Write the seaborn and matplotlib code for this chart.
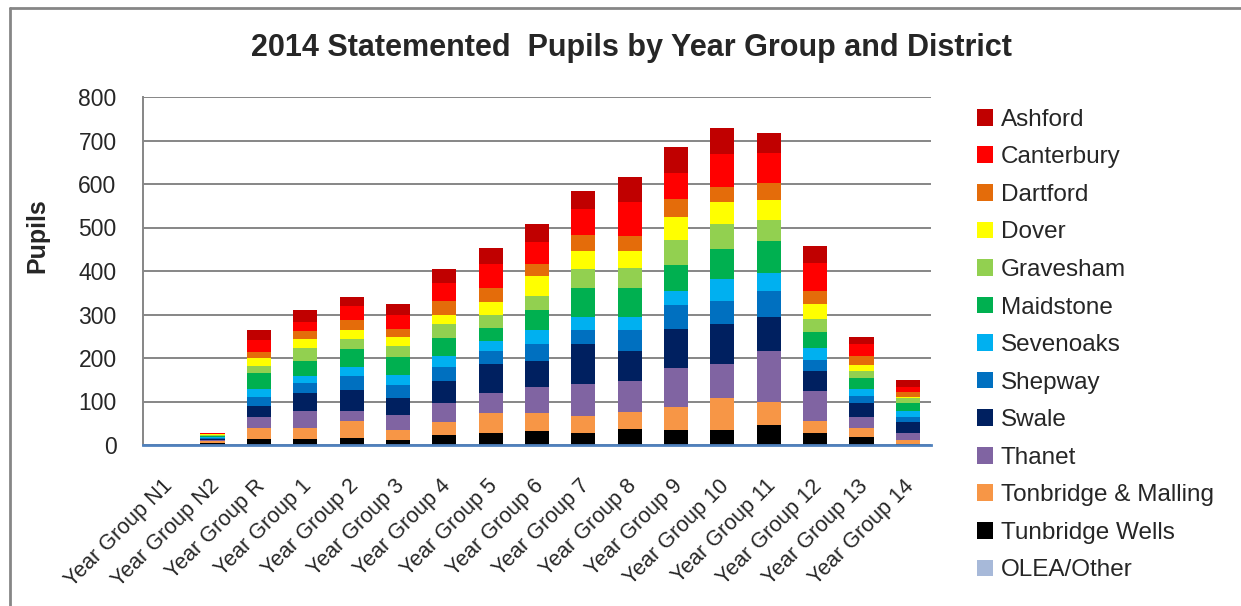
import numpy as np
import pandas as pd
import matplotlib
matplotlib.use("Agg")
import matplotlib.pyplot as plt
import seaborn as sns
from matplotlib.patches import Patch
from matplotlib.lines import Line2D
from matplotlib.transforms import ScaledTranslation

# categories (x axis)
year_groups = ["Year Group N1", "Year Group N2", "Year Group R", "Year Group 1",
               "Year Group 2", "Year Group 3", "Year Group 4", "Year Group 5",
               "Year Group 6", "Year Group 7", "Year Group 8", "Year Group 9",
               "Year Group 10", "Year Group 11", "Year Group 12", "Year Group 13",
               "Year Group 14"]

# legend order = top of stack first
districts = ["Ashford", "Canterbury", "Dartford", "Dover", "Gravesham", "Maidstone",
             "Sevenoaks", "Shepway", "Swale", "Thanet", "Tonbridge & Malling",
             "Tunbridge Wells", "OLEA/Other"]

colors = ["#C00000", "#FF0000", "#E46C0A", "#FFFF00", "#92D050", "#00B050",
          "#00B0F0", "#0070C0", "#002060", "#8064A2", "#F79646", "#000000", "#A7B9D9"]

# pupils per district, N1, N2, R, 1..14
ashford =    [0, 1, 23, 28, 21, 25, 32, 39, 42, 43, 58, 60, 59, 47, 39, 16, 16]
canterbury = [0, 1, 28, 21, 32, 32, 42, 55, 50, 60, 78, 60, 76, 69, 65, 28, 12]
dartford =   [0, 1, 14, 18, 23, 18, 30, 32, 28, 36, 35, 42, 35, 39, 30, 21, 12]
dover =      [0, 1, 18, 21, 21, 21, 21, 30, 46, 42, 37, 53, 51, 46, 35, 12, 2]
gravesham =  [0, 3, 16, 28, 23, 25, 32, 28, 32, 44, 46, 58, 58, 48, 30, 18, 12]
maidstone =  [0, 3, 37, 35, 42, 42, 42, 32, 46, 65, 67, 60, 69, 74, 35, 25, 18]
sevenoaks =  [0, 2, 18, 16, 21, 21, 25, 23, 32, 30, 30, 32, 51, 42, 28, 16, 14]
shepway =    [0, 2, 21, 23, 32, 30, 32, 28, 39, 32, 48, 55, 51, 58, 25, 16, 12]
swale =      [0, 2, 25, 42, 48, 39, 51, 67, 60, 92, 69, 90, 92, 78, 48, 32, 25]
thanet =     [0, 2, 25, 39, 23, 35, 44, 46, 60, 74, 72, 88, 78, 118, 67, 25, 16]
tonbridge_malling = [0, 5, 25, 25, 39, 23, 30, 46, 42, 39, 39, 53, 74, 53, 28, 21, 9]
tunbridge_wells =   [0, 5, 14, 14, 16, 12, 23, 28, 32, 28, 37, 35, 35, 46, 28, 18, 2]
olea_other = [0, 0, 0, 0, 0, 0, 0, 0, 0, 0, 0, 0, 0, 0, 0, 0, 0]

series = [ashford, canterbury, dartford, dover, gravesham, maidstone, sevenoaks,
          shepway, swale, thanet, tonbridge_malling, tunbridge_wells, olea_other]

rows = []
for name, vals in zip(districts, series):
    for i, v in enumerate(vals):
        rows.append({"pos": i, "district": name, "pupils": v})
df = pd.DataFrame(rows)

sns.set_style("white")
plt.rcParams['font.family'] = ['Liberation Sans', 'DejaVu Sans']

fig = plt.figure(figsize=(12.41, 6.06), dpi=100)
ax = fig.add_axes([143 / 1241, 1 - 445 / 606, (931 - 143) / 1241, (445 - 97) / 606])

# seaborn stacks the last hue level at the bottom
sns.histplot(data=df, x="pos", weights="pupils", hue="district", hue_order=districts,
             palette=colors, multiple="stack", discrete=True, shrink=0.52,
             alpha=1, linewidth=0, edgecolor="none", legend=False, ax=ax)

ax.set_xlim(-0.5, len(year_groups) - 0.5)
ax.set_ylim(0, 800)
ax.set_yticks(np.arange(0, 801, 100))
ax.set_xticks(range(len(year_groups)))
ax.set_xticklabels(year_groups, rotation=45, ha="right", rotation_mode="anchor", fontsize=15.5)
ax.tick_params(axis="y", length=0, pad=19, labelsize=16.5)
ax.tick_params(axis="x", length=0, pad=22)
for lbl in ax.get_xticklabels():
    lbl.set_transform(lbl.get_transform() + ScaledTranslation(-0.04, 0, fig.dpi_scale_trans))
ax.set_xlabel("")
ax.set_ylabel("")
ax.yaxis.grid(True, color="#868686", linewidth=1.4)
ax.set_axisbelow(True)
for s in ["top", "right"]:
    ax.spines[s].set_visible(False)
ax.spines["left"].set_color("#868686")
ax.spines["left"].set_linewidth(1.4)
ax.spines["bottom"].set_color("#4F81BD")
ax.spines["bottom"].set_linewidth(2)

fig.text(0.509, 0.921, "2014 Statemented  Pupils by Year Group and District",
         ha="center", va="center", fontsize=22, fontweight="bold")
fig.text(0.030, 0.611, "Pupils", rotation=90, ha="center", va="center",
         fontsize=18, fontweight="bold")

handles = [Patch(facecolor=c, edgecolor="none") for c in colors]
fig.legend(handles, districts, loc="upper left", bbox_to_anchor=(967 / 1241, 1 - 99 / 606),
           frameon=False, fontsize=17.5, handlelength=0.68, handleheight=0.68,
           handletextpad=0.3, labelspacing=0.64, borderaxespad=0)

# outer chart frame (left and top edges visible)
fig.add_artist(Line2D([10 / 1241, 10 / 1241], [0, 1 - 8 / 606], color="#868686", linewidth=2))
fig.add_artist(Line2D([10 / 1241, 1], [1 - 8 / 606, 1 - 8 / 606], color="#868686", linewidth=2))

fig.savefig("out.png", dpi=100)
